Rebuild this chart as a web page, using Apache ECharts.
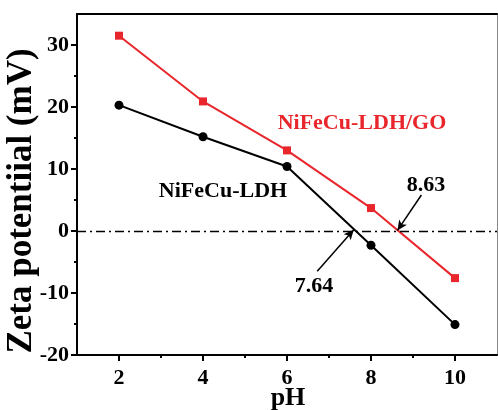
<!DOCTYPE html>
<html>
<head>
<meta charset="utf-8">
<style>
  html, body { margin: 0; padding: 0; background: #fff; }
  #chart { width: 498px; height: 410px; }
</style>
<script src="https://cdn.jsdelivr.net/npm/echarts@6/dist/echarts.min.js"></script>
</head>
<body>
<div id="chart"></div>
<script>
// pH values measured
const phValues = [2, 4, 6, 8, 10];
// Zeta potential (mV) for each sample
const ldhZeta = [20.3, 15.2, 10.4, -2.3, -15.1];
const ldhGoZeta = [31.5, 20.9, 13.0, 3.7, -7.6];
// Isoelectric points read at zero potential
const iepLdh = 7.64;
const iepLdhGo = 8.63;
// Axis ticks
const xMajorTicks = [2, 4, 6, 8, 10];
const xMinorTicks = [3, 5, 7, 9];
const yMajorTicks = [-20, -10, 0, 10, 20, 30];
const yMinorTicks = [-15, -5, 5, 15, 25];

const FONT = '"Liberation Serif", "Times New Roman", serif';
const RED = '#e8262b';

const chart = echarts.init(document.getElementById('chart'), null, { renderer: 'canvas' });

const pairs = (xs, ys) => xs.map((x, i) => [x, ys[i]]);

const baseX = { type: 'value', min: 1, max: 11, gridIndex: 0 };
const baseY = { type: 'value', min: -20, max: 35, gridIndex: 0 };

chart.setOption({
  animation: false,
  backgroundColor: '#fff',
  grid: { left: 77, right: 1, top: 14, bottom: 55, containLabel: false },
  xAxis: [
    Object.assign({}, baseX, {
      position: 'bottom',
      axisLine: { show: true, onZero: false, lineStyle: { color: '#000', width: 2 } },
      axisTick: { show: true, customValues: xMajorTicks, length: 6, lineStyle: { color: '#000', width: 2 } },
      axisLabel: { show: true, customValues: xMajorTicks, margin: 12, color: '#000',
                   fontFamily: FONT, fontWeight: 'bold', fontSize: 22 },
      splitLine: { show: false }
    }),
    Object.assign({}, baseX, {
      position: 'bottom',
      axisLine: { show: false, onZero: false },
      axisTick: { show: true, customValues: xMinorTicks, length: 3, lineStyle: { color: '#000', width: 2 } },
      axisLabel: { show: false },
      splitLine: { show: false }
    }),
    Object.assign({}, baseX, {
      position: 'top',
      axisLine: { show: true, onZero: false, lineStyle: { color: '#000', width: 2 } },
      axisTick: { show: false }, axisLabel: { show: false }, splitLine: { show: false }
    })
  ],
  yAxis: [
    Object.assign({}, baseY, {
      position: 'left',
      axisLine: { show: true, onZero: false, lineStyle: { color: '#000', width: 2 } },
      axisTick: { show: true, customValues: yMajorTicks, length: 6, lineStyle: { color: '#000', width: 2 } },
      axisLabel: { show: true, customValues: yMajorTicks, margin: 8, color: '#000',
                   fontFamily: FONT, fontWeight: 'bold', fontSize: 22 },
      splitLine: { show: false }
    }),
    Object.assign({}, baseY, {
      position: 'left',
      axisLine: { show: false, onZero: false },
      axisTick: { show: true, customValues: yMinorTicks, length: 3, lineStyle: { color: '#000', width: 2 } },
      axisLabel: { show: false },
      splitLine: { show: false }
    }),
    Object.assign({}, baseY, {
      position: 'right',
      axisLine: { show: true, onZero: false, lineStyle: { color: '#888', width: 1 } },
      axisTick: { show: false }, axisLabel: { show: false }, splitLine: { show: false }
    })
  ],
  series: [
    {
      name: 'NiFeCu-LDH',
      type: 'line',
      data: pairs(phValues, ldhZeta),
      symbol: 'circle',
      symbolSize: 9,
      lineStyle: { color: '#000', width: 2 },
      itemStyle: { color: '#000' },
      z: 3,
      markLine: {
        silent: true,
        symbol: ['none', 'none'],
        label: { show: false },
        lineStyle: { color: '#000', width: 1.3, type: [9, 4, 2, 4] },
        data: [{ yAxis: 0 }]
      }
    },
    {
      name: 'NiFeCu-LDH/GO',
      type: 'line',
      data: pairs(phValues, ldhGoZeta),
      symbol: 'rect',
      symbolSize: 8,
      lineStyle: { color: RED, width: 2 },
      itemStyle: { color: RED },
      z: 3
    },
    {
      // arrows pointing at the isoelectric points
      type: 'line',
      data: [],
      markLine: {
        silent: true,
        symbol: ['none', 'arrow'],
        symbolSize: [7, 10],
        label: { show: false },
        lineStyle: { color: '#000', width: 1.5, type: 'solid' },
        data: [
          [{ coord: [6.72, -6.5] }, { coord: [iepLdh - 0.05, 0.2] }],
          [{ coord: [9.2, 5.8] }, { coord: [iepLdhGo, 0.1] }]
        ]
      }
    }
  ],
  graphic: [
    {
      type: 'text', x: 22, y: 201, rotation: Math.PI / 2,
      style: { text: 'Zeta potentiial (mV)', fill: '#000', font: 'bold 35px ' + FONT,
               align: 'center', verticalAlign: 'middle' }
    },
    {
      type: 'text', x: 288, y: 398,
      style: { text: 'pH', fill: '#000', font: 'bold 26px ' + FONT,
               align: 'center', verticalAlign: 'middle' }
    },
    {
      type: 'text', x: 362, y: 123,
      style: { text: 'NiFeCu-LDH/GO', fill: RED, font: 'bold 22px ' + FONT,
               align: 'center', verticalAlign: 'middle' }
    },
    {
      type: 'text', x: 223, y: 191,
      style: { text: 'NiFeCu-LDH', fill: '#000', font: 'bold 22px ' + FONT,
               align: 'center', verticalAlign: 'middle' }
    },
    {
      type: 'text', x: 314, y: 286,
      style: { text: String(iepLdh), fill: '#000', font: 'bold 22px ' + FONT,
               align: 'center', verticalAlign: 'middle' }
    },
    {
      type: 'text', x: 426, y: 185,
      style: { text: String(iepLdhGo), fill: '#000', font: 'bold 22px ' + FONT,
               align: 'center', verticalAlign: 'middle' }
    }
  ]
});
</script>
</body>
</html>
